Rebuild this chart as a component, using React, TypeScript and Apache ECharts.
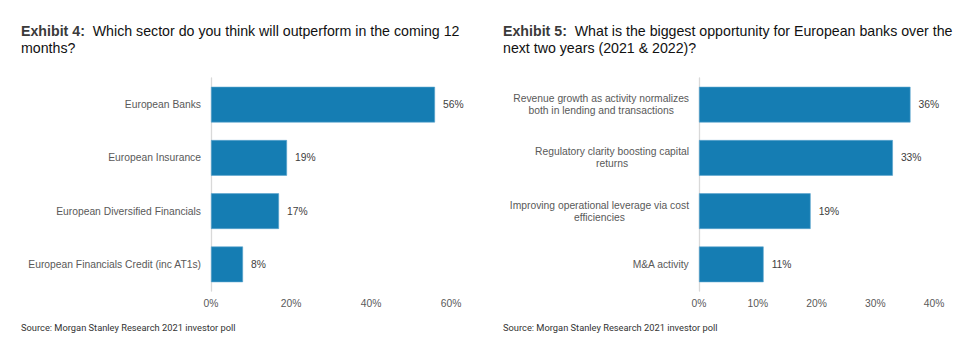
import React, { useEffect, useRef } from "react";
import * as echarts from "echarts";

const leftCategories = [
  "European Banks",
  "European Insurance",
  "European Diversified Financials",
  "European Financials Credit (inc AT1s)",
];
const leftValues = [56, 19, 17, 8];
const leftTicks = [0, 20, 40, 60];

const rightCategories = [
  "Revenue growth as activity normalizes\nboth in lending and transactions",
  "Regulatory clarity boosting capital\nreturns",
  "Improving operational leverage via cost\nefficiencies",
  "M&A activity",
];
const rightValues = [36, 33, 19, 11];
const rightTicks = [0, 10, 20, 30, 40];

const leftTitle = "Which sector do you think will outperform in the coming 12\nmonths?";
const rightTitle = "What is the biggest opportunity for European banks over the\nnext two years (2021 & 2022)?";
const sourceText = "Source: Morgan Stanley Research 2021 investor poll";

const FONT = "'Liberation Sans', Arial, sans-serif";
const BAR = "#157db3";
const LABEL = "#595959";

export default function App() {
  const ref = useRef<HTMLDivElement>(null);
  useEffect(() => {
    if (!ref.current) return;
    const chart = echarts.init(ref.current, undefined, { renderer: "svg" });
    const axisX = (ticks: number[], gridIndex: number) => ({
      type: "value" as const,
      gridIndex,
      min: ticks[0],
      max: ticks[ticks.length - 1],
      interval: ticks[1] - ticks[0],
      axisLine: { show: false },
      axisTick: { show: false },
      splitLine: { show: false },
      axisLabel: {
        formatter: "{value}%",
        color: LABEL,
        fontFamily: FONT,
        fontSize: 10.3,
        margin: 7,
      },
    });
    const axisY = (cats: string[], gridIndex: number, rich: boolean) => ({
      type: "category" as const,
      gridIndex,
      data: cats,
      inverse: true,
      axisLine: { show: true, lineStyle: { color: "#d9d9d9", width: 1.3 } },
      axisTick: { show: false },
      axisLabel: rich
        ? {
            margin: 10,
            formatter: (v: string) => `{c|${v}}`,
            rich: {
              c: {
                align: "center",
                color: LABEL,
                fontFamily: FONT,
                fontSize: 10.3,
                lineHeight: 12,
              },
            },
          }
        : {
            margin: 10,
            color: LABEL,
            fontFamily: FONT,
            fontSize: 10.3,
          },
    });
    const series = (vals: number[], idx: number) => ({
      type: "bar" as const,
      xAxisIndex: idx,
      yAxisIndex: idx,
      data: vals,
      barCategoryGap: "33%",
      itemStyle: { color: BAR, borderColor: "#5aa5cf", borderWidth: 0.6 },
      label: {
        show: true,
        position: "right",
        distance: 8,
        formatter: "{c}%",
        color: "#404040",
        fontFamily: FONT,
        fontSize: 10.3,
      },
    });
    const titleRich = {
      b: { fontWeight: "bold", fontSize: 14.2, fontFamily: FONT, color: "#3a3a3a", lineHeight: 17.6 },
      t: { fontWeight: "normal", fontSize: 14.2, fontFamily: FONT, color: "#111", lineHeight: 17.6 },
    };
    const mkTitle = (label: string, text: string, left: number) => {
      const [l1, l2] = text.split("\n");
      return {
        left,
        top: 22,
        padding: 0,
        text: `{b|${label}}{t|  ${l1}}\n{t|${l2}}`,
        textStyle: { fontWeight: "normal", fontFamily: FONT, fontSize: 14.2, rich: titleRich },
      };
    };
    const srcStyle = { fontFamily: "Roboto, sans-serif", fontSize: 9.3, fontWeight: "normal", color: "#333" };
    chart.setOption({
      animation: false,
      title: [
        mkTitle("Exhibit 4:", leftTitle, 21),
        mkTitle("Exhibit 5:", rightTitle, 503),
        { left: 21, top: 323, padding: 0, text: sourceText, textStyle: srcStyle },
        { left: 503, top: 323, padding: 0, text: sourceText, textStyle: srcStyle },
      ],
      grid: [
        { left: 211, width: 240, top: 78, height: 213 },
        { left: 699, width: 235, top: 78, height: 213 },
      ],
      xAxis: [axisX(leftTicks, 0), axisX(rightTicks, 1)],
      yAxis: [axisY(leftCategories, 0, false), axisY(rightCategories, 1, true)],
      series: [series(leftValues, 0), series(rightValues, 1)],
    });
    return () => chart.dispose();
  }, []);
  return (
    <div
      ref={ref}
      style={{ position: "fixed", left: 0, top: 0, width: 979, height: 360, background: "#fff" }}
    />
  );
}
